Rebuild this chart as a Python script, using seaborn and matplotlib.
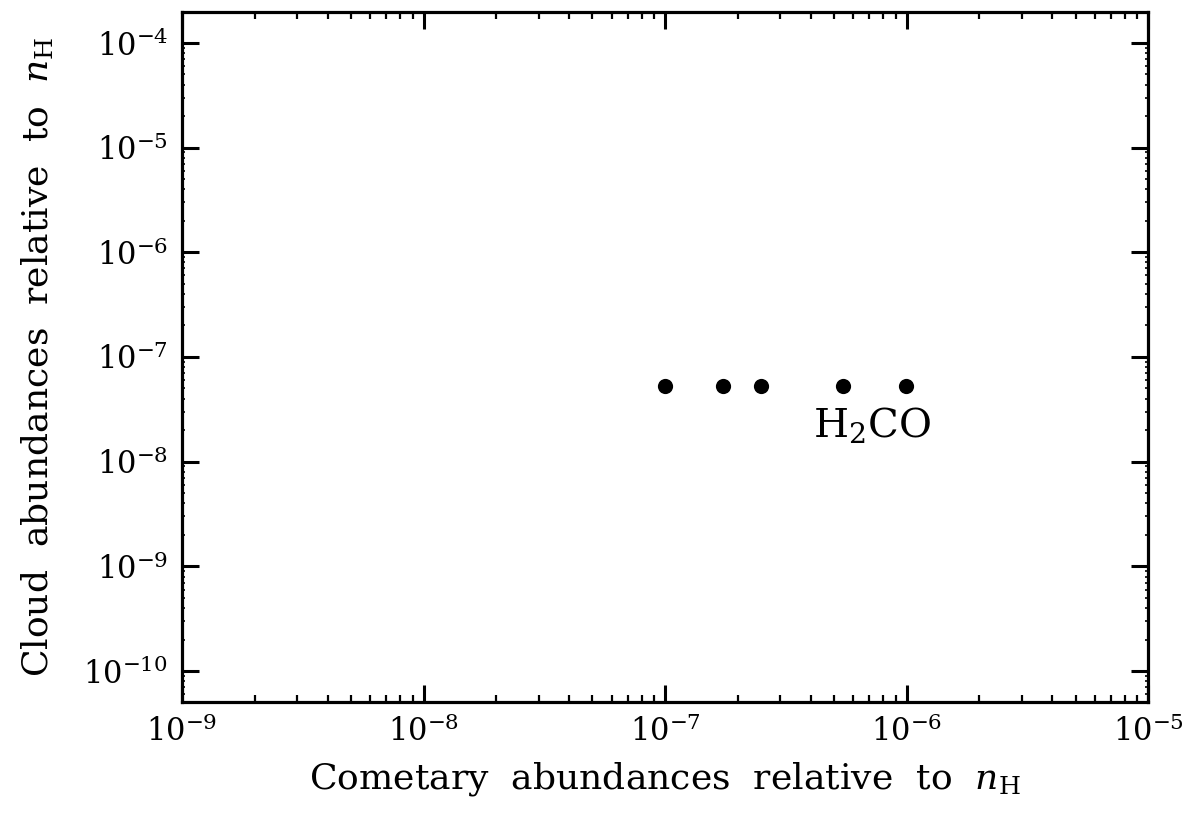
import numpy as np
import pandas as pd
import matplotlib
matplotlib.use("Agg")
import matplotlib.pyplot as plt
import matplotlib.ticker as mticker
import seaborn as sns

# Data
comet_abund = [1.0e-7, 1.74e-7, 2.5e-7, 5.46e-7, 9.9e-7]
cloud_abund = [5.3e-8, 5.3e-8, 5.3e-8, 5.3e-8, 5.3e-8]
molecule = ["H2CO"] * 5
label_text = r"H$_2$CO"
label_pos = (4.1e-7, 1.73e-8)
x_ticks = [1e-9, 1e-8, 1e-7, 1e-6, 1e-5]
y_ticks = [1e-10, 1e-9, 1e-8, 1e-7, 1e-6, 1e-5, 1e-4]

df = pd.DataFrame({"comet": comet_abund, "cloud": cloud_abund, "mol": molecule})

sns.set_style("ticks")
plt.rcParams["font.family"] = ["DejaVu Serif", "DejaVu Sans"]
plt.rcParams["mathtext.fontset"] = "dejavuserif"
plt.rcParams["text.color"] = "black"
plt.rcParams["axes.labelcolor"] = "black"

fig = plt.figure(figsize=(11.9, 8.15), dpi=100)
ax = fig.add_axes([0.153, 0.1387, 0.812, 0.8466])

sns.scatterplot(x="comet", y="cloud", data=df, ax=ax, s=120, color="black",
                edgecolor="black", linewidth=0, legend=False)

ax.set_xscale("log")
ax.set_yscale("log")
ax.set_xlim(1e-9, 1e-5)
ax.set_ylim(10 ** -10.295, 10 ** -3.705)
ax.set_xticks(x_ticks)
ax.set_yticks(y_ticks)
ax.xaxis.set_minor_formatter(mticker.NullFormatter())
ax.yaxis.set_minor_formatter(mticker.NullFormatter())

ax.text(label_pos[0], label_pos[1], label_text, fontsize=29, ha="left", va="baseline")

ax.set_xlabel(r"Cometary  abundances  relative  to  $n_{\rm H}$", fontsize=26, labelpad=9)
ax.set_ylabel(r"Cloud  abundances  relative  to  $n_{\rm H}$", fontsize=26, labelpad=20)

for sp in ax.spines.values():
    sp.set_linewidth(2.3)
    sp.set_color("black")

ax.tick_params(which="both", direction="in", top=True, right=True, colors="black")
ax.tick_params(which="major", length=12, width=2.2, labelsize=22, pad=10)
ax.tick_params(axis="x", which="minor", length=5, width=1.6)
ax.tick_params(axis="y", which="minor", length=2, width=1.2)

fig.savefig("out.png", dpi=100)
